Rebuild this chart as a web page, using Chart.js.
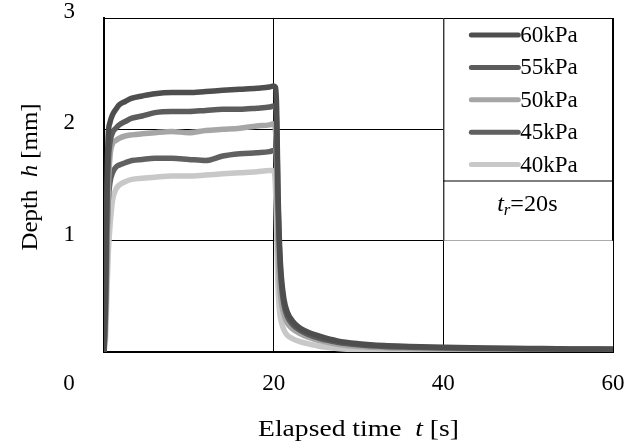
<!DOCTYPE html>
<html>
<head>
<meta charset="utf-8">
<script src="https://cdn.jsdelivr.net/npm/chart.js@4.4.1/dist/chart.umd.min.js"></script>
<style>
  html, body { margin: 0; padding: 0; background: #fff; }
</style>
</head>
<body>
<canvas id="depthChart" width="637" height="442"></canvas>
<script>
// elapsed time [s]
var timeS = [0, 0.2, 0.35, 0.5, 0.7, 1.0, 1.4, 1.8, 2.5, 3.3,
  4.5, 6, 8, 10, 12, 14, 16, 18, 19.5, 20,
  20.2, 20.35, 20.5, 20.7, 20.9, 21.2, 21.6, 22.2, 23, 24,
  25.5, 27.5, 30, 33, 36, 40, 45, 50, 55, 60];

// depth h [mm]
var depth60 = [0, 0.6, 1.5, 1.95, 2.06, 2.13, 2.18, 2.22, 2.25, 2.28,
  2.30, 2.32, 2.33, 2.33, 2.34, 2.35, 2.36, 2.37, 2.38, 2.39,
  2.38, 2.2, 1.5, 0.95, 0.68, 0.48, 0.36, 0.28, 0.22, 0.18,
  0.14, 0.10, 0.075, 0.058, 0.05, 0.042, 0.036, 0.032, 0.028, 0.026];
var depth55 = [0, 0.5, 1.3, 1.7, 1.88, 1.97, 2.01, 2.04, 2.07, 2.10,
  2.12, 2.15, 2.16, 2.16, 2.17, 2.18, 2.18, 2.19, 2.20, 2.21,
  2.20, 2.05, 1.4, 0.88, 0.62, 0.43, 0.32, 0.25, 0.2, 0.16,
  0.12, 0.088, 0.065, 0.05, 0.043, 0.037, 0.032, 0.028, 0.025, 0.023];
var depth50 = [0, 0.35, 0.9, 1.45, 1.75, 1.87, 1.9, 1.92, 1.94, 1.95,
  1.96, 1.97, 1.98, 1.97, 1.99, 2.0, 2.01, 2.03, 2.04, 2.05,
  2.0, 1.7, 1.0, 0.6, 0.45, 0.34, 0.26, 0.21, 0.17, 0.135,
  0.1, 0.07, 0.05, 0.038, 0.032, 0.027, 0.023, 0.02, 0.018, 0.017];
var depth45 = [0, 0.4, 1.0, 1.35, 1.52, 1.61, 1.66, 1.68, 1.70, 1.72,
  1.73, 1.74, 1.74, 1.73, 1.72, 1.76, 1.78, 1.79, 1.80, 1.81,
  1.80, 1.65, 1.2, 0.8, 0.58, 0.42, 0.31, 0.24, 0.19, 0.15,
  0.11, 0.08, 0.06, 0.046, 0.04, 0.034, 0.03, 0.026, 0.023, 0.021];
var depth40 = [0, 0.15, 0.55, 0.88, 1.12, 1.36, 1.46, 1.50, 1.53, 1.55,
  1.56, 1.57, 1.58, 1.58, 1.59, 1.60, 1.61, 1.62, 1.63, 1.63,
  1.5, 1.1, 0.6, 0.36, 0.27, 0.2, 0.15, 0.12, 0.095, 0.075,
  0.05, 0.032, 0.022, 0.017, 0.015, 0.014, 0.013, 0.013, 0.012, 0.012];

var seriesNames = ["60kPa", "55kPa", "50kPa", "45kPa", "40kPa"];
var seriesValues = [depth60, depth55, depth50, depth45, depth40];
var seriesColors = ["#4e4e4e", "#5c5c5c", "#a6a6a6", "#606060", "#c8c8c8"];

var xTicks = [0, 20, 40, 60];
var yTicks = [0, 1, 2, 3];

var serif = '"Liberation Serif", "Times New Roman", serif';
var fontSize = 23;

function toPoints(vals) {
  return timeS.map(function(t, i) { return { x: t, y: vals[i] }; });
}

var datasets = seriesNames.map(function(name, i) {
  return {
    label: name,
    data: toPoints(seriesValues[i]),
    borderColor: seriesColors[i],
    backgroundColor: seriesColors[i],
    borderWidth: 5.5,
    pointRadius: 0,
    cubicInterpolationMode: 'monotone',
    borderJoinStyle: 'round',
    borderCapStyle: 'round',
    fill: false
  };
});

// draws text made of plain / italic / subscript pieces, centred on x
function drawRich(ctx, parts, x, y, stretch) {
  var total = 0;
  parts.forEach(function(p) {
    ctx.font = p.font;
    p.w = ctx.measureText(p.text).width;
    total += p.w;
  });
  ctx.save();
  ctx.translate(x, y);
  ctx.scale(stretch || 1, 1);
  var cx = -total / 2;
  parts.forEach(function(p) {
    ctx.font = p.font;
    ctx.fillText(p.text, cx, p.dy || 0);
    cx += p.w;
  });
  ctx.restore();
}

// scales keep their own overflow padding at zero so the layout padding decides the plot box
function noOverflow(s) {
  s.paddingTop = 0; s.paddingBottom = 0; s.paddingLeft = 0; s.paddingRight = 0;
}

var textPlugin = {
  id: 'textPlugin',
  afterDraw: function(chart) {
    var ctx = chart.ctx;
    var area = chart.chartArea;
    var xs = chart.scales.x, ys = chart.scales.y;
    var plain = fontSize + 'px ' + serif;
    var ital = 'italic ' + fontSize + 'px ' + serif;
    ctx.save();
    ctx.textBaseline = 'middle';

    // legend box
    var lx = xs.getPixelForValue(40);
    var rx = area.right;
    var top = area.top;
    var rowH = 32.4;
    var boxBottom = top + rowH * 5 + 0.5;
    var y1 = ys.getPixelForValue(1);
    ctx.fillStyle = '#fff';
    ctx.fillRect(lx, top, rx - lx, y1 - top);
    ctx.strokeStyle = '#000';
    ctx.lineWidth = 1;
    ctx.strokeRect(lx + 0.5, top + 0.5, rx - lx - 1, boxBottom - top);
    ctx.beginPath();
    ctx.moveTo(lx + 0.5, boxBottom);
    ctx.lineTo(lx + 0.5, y1);
    ctx.moveTo(rx - 0.5, boxBottom);
    ctx.lineTo(rx - 0.5, y1);
    ctx.stroke();

    ctx.lineCap = 'round';
    ctx.lineWidth = 5;
    ctx.textAlign = 'left';
    seriesNames.forEach(function(name, i) {
      var y = top + 17 + i * rowH;
      ctx.strokeStyle = seriesColors[i];
      ctx.beginPath();
      ctx.moveTo(lx + 28, y);
      ctx.lineTo(lx + 75, y);
      ctx.stroke();
      ctx.fillStyle = '#000';
      ctx.font = plain;
      ctx.fillText(name, lx + 77, y + 1);
    });

    ctx.fillStyle = '#000';
    ctx.textAlign = 'left';
    drawRich(ctx, [
      { text: 't', font: ital },
      { text: 'r', font: 'italic 16px ' + serif, dy: 6 },
      { text: '=20s', font: plain }
    ], lx + 84, boxBottom + 24, 1.05);

    // origin label
    ctx.font = plain;
    ctx.textAlign = 'center';
    ctx.fillText('0', area.left - 35, area.bottom + 32);

    // axis titles
    ctx.textAlign = 'left';
    drawRich(ctx, [
      { text: 'Elapsed time  ', font: plain },
      { text: 't', font: ital },
      { text: ' [s]', font: plain }
    ], (area.left + area.right) / 2, area.bottom + 78, 1.2);

    ctx.translate(area.left - 73, (area.top + area.bottom) / 2 - 8);
    ctx.rotate(-Math.PI / 2);
    drawRich(ctx, [
      { text: 'Depth  ', font: plain },
      { text: 'h', font: ital },
      { text: ' [mm]', font: plain }
    ], 0, 0, 1.08);
    ctx.restore();
  }
};

var ctx = document.getElementById('depthChart').getContext('2d');
var depthChart = new Chart(ctx, {
  type: 'line',
  data: { datasets: datasets },
  options: {
    responsive: false,
    animation: false,
    devicePixelRatio: 1,
    layout: { padding: { left: 0, right: 24, top: 18, bottom: 0 } },
    plugins: {
      legend: { display: false },
      tooltip: { enabled: false }
    },
    scales: {
      x: {
        type: 'linear',
        min: xTicks[0],
        max: xTicks[xTicks.length - 1],
        afterBuildTicks: function(s) { s.ticks = xTicks.map(function(v) { return { value: v }; }); },
        afterFit: function(s) { s.height = 90; noOverflow(s); },
        ticks: {
          color: '#000',
          font: { family: serif, size: fontSize },
          padding: 18,
          maxRotation: 0,
          callback: function(v) { return v === 0 ? '' : v; }
        },
        grid: { color: '#000', lineWidth: 1, drawTicks: false },
        border: { color: '#000', width: 2 }
      },
      y: {
        min: yTicks[0],
        max: yTicks[yTicks.length - 1],
        afterBuildTicks: function(s) { s.ticks = yTicks.map(function(v) { return { value: v }; }); },
        afterFit: function(s) { s.width = 104; noOverflow(s); },
        ticks: {
          color: '#000',
          font: { family: serif, size: fontSize },
          padding: 29,
          labelOffset: -6,
          callback: function(v) { return v === 0 ? '' : v; }
        },
        grid: { color: '#000', lineWidth: 1, drawTicks: false },
        border: { color: '#000', width: 2 }
      }
    }
  },
  plugins: [textPlugin]
});
</script>
</body>
</html>
